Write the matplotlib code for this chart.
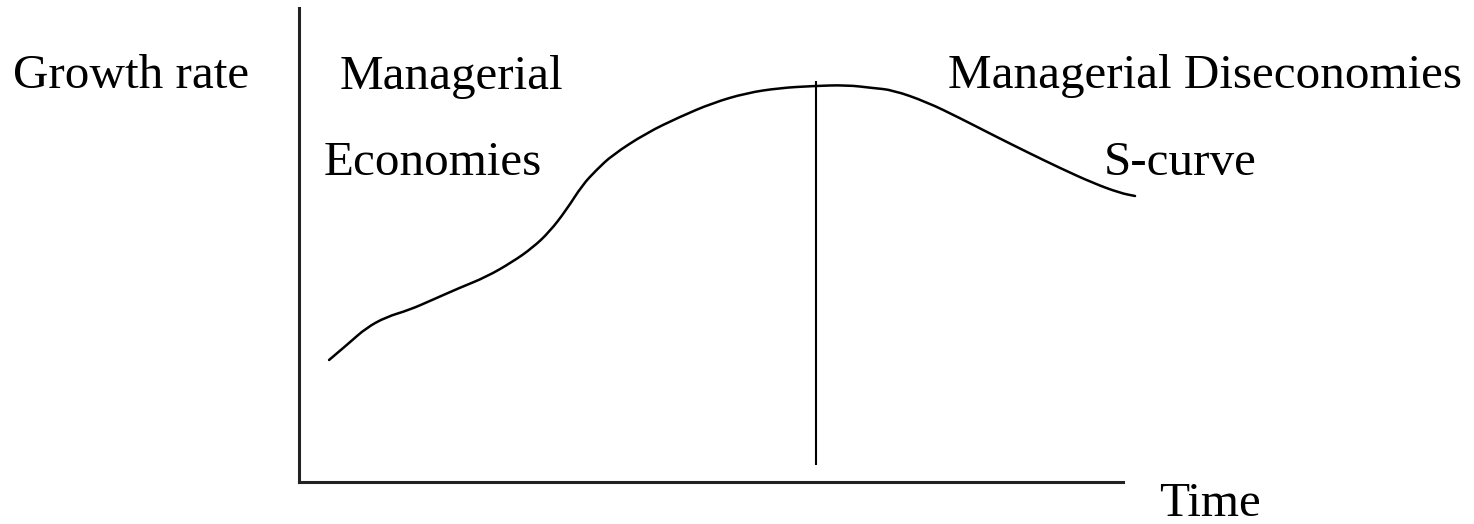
import matplotlib.pyplot as plt
from matplotlib.path import Path
from matplotlib.patches import PathPatch

# S-Kurve (Zeit 0..100, Wachstumsrate 0..100)
time = [3.65, 6.08, 8.14, 10.57, 13.37, 16.16, 19.44, 22.72, 25.88, 28.31,
        30.38, 32.44, 34.39, 36.09, 38.03, 42.16, 46.17, 50.18, 54.31, 58.32,
        62.33, 66.46, 69.62, 72.05, 76.18, 80.19, 84.20, 88.34, 92.35, 96.35,
        99.64, 101.46]
growth = [25.74, 29.32, 32.49, 34.81, 36.29, 38.40, 40.93, 43.25, 46.41, 49.37,
          52.74, 57.38, 62.66, 65.82, 68.99, 73.63, 77.00, 79.96, 82.07, 83.12,
          83.54, 83.76, 83.12, 82.70, 80.17, 76.79, 73.21, 69.62, 66.24, 63.08,
          60.97, 60.34]

# Trennlinie zwischen Economies / Diseconomies
divider_time = 62.7
divider_range = [3.6, 84.6]

plt.rcParams["font.family"] = ["Liberation Serif", "DejaVu Serif"]

fig = plt.figure(figsize=(14.74, 5.24), dpi=100)
W, H = 1474, 524
ax = fig.add_axes([299 / W, (H - 482) / H, 824 / W, 474 / H])

# Kurve glatt zeichnen: Messpunkte als Kontrollpunkte quadratischer Bezier-Stuecke
pts = list(zip(time, growth))
verts = [pts[0]]
codes = [Path.MOVETO]
for i in range(1, len(pts) - 1):
    mid = ((pts[i][0] + pts[i + 1][0]) / 2, (pts[i][1] + pts[i + 1][1]) / 2)
    verts += [pts[i], mid]
    codes += [Path.CURVE3, Path.CURVE3]
verts.append(pts[-1])
codes.append(Path.LINETO)
curve = PathPatch(Path(verts, codes), facecolor="none", edgecolor="black",
                  linewidth=1.8, clip_on=False, capstyle="round", joinstyle="round")
ax.add_patch(curve)

ax.vlines(divider_time, divider_range[0], divider_range[1], color="black", linewidth=1.5)

ax.set_xlim(0, 100)
ax.set_ylim(0, 100)
ax.set_xticks([])
ax.set_yticks([])
for side in ["top", "right"]:
    ax.spines[side].set_visible(False)
for side in ["left", "bottom"]:
    ax.spines[side].set_linewidth(2.2)
    ax.spines[side].set_color("#222222")

# Beschriftungen
fs = 35.4
labels = [
    ("Growth rate", 13, 88),
    ("Managerial", 340, 89),
    ("Economies", 324, 175),
    ("Managerial Diseconomies", 948, 88),
    ("S-curve", 1104, 175),
    ("Time", 1159, 516),
]
for txt, x, y in labels:
    fig.text(x / W, (H - y) / H, txt, fontsize=fs, ha="left", va="baseline", color="black")

plt.savefig("out.png", dpi=100)
